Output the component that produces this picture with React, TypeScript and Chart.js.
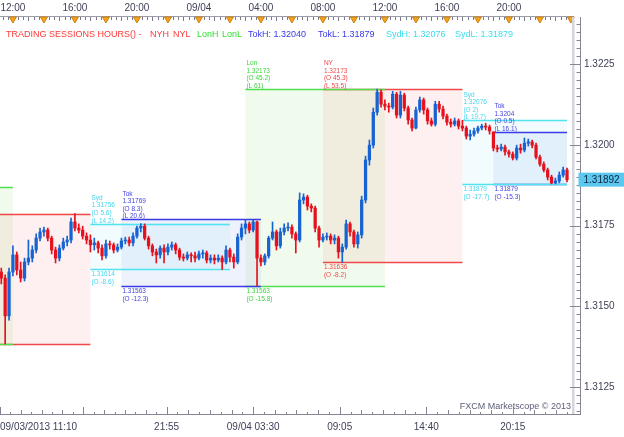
import React, { useEffect, useRef } from "react";
import { Chart, registerables } from "chart.js";

Chart.register(...registerables);

// ---------- data ----------
const FIRST_BAR_HOUR = 11.25; // 09/03 11:15 (hours since 09/03 00:00)
const BAR_HOURS = 0.25; // 15-minute bars
const X_MIN = 11 + 10 / 60; // 09/03 11:10
const X_MAX = 48.07;
const Y_MIN = 1.31166;
const Y_MAX = 1.32396;

const opens = [
  1.31606, 1.31587, 1.3147, 1.31606, 1.31659, 1.31612, 1.31587, 1.31637, 1.31649, 1.31674,
  1.31711, 1.3173, 1.31736, 1.31711, 1.31674, 1.31649, 1.3168, 1.31699, 1.31705, 1.31761,
  1.31742, 1.31736, 1.31717, 1.31705, 1.3169, 1.31696, 1.3168, 1.31656, 1.31693, 1.3169,
  1.31674, 1.31683, 1.31702, 1.31705, 1.31696, 1.31717, 1.31742, 1.31748, 1.31711, 1.31687,
  1.31668, 1.31659, 1.3168, 1.31668, 1.31683, 1.3169, 1.31674, 1.31652, 1.31649, 1.31659,
  1.31656, 1.31649, 1.31662, 1.31665, 1.31643, 1.31649, 1.31643, 1.31649, 1.31637, 1.31674,
  1.31652, 1.31637, 1.31714, 1.31742, 1.31755, 1.31736, 1.31761, 1.31649, 1.31637, 1.31656,
  1.31711, 1.3173, 1.31687, 1.3173, 1.31742, 1.31745, 1.31724, 1.31705, 1.31829, 1.31838,
  1.3181, 1.31804, 1.31742, 1.31705, 1.31714, 1.31717, 1.31705, 1.31711, 1.31668, 1.31683,
  1.31755, 1.3173, 1.31693, 1.31721, 1.31829, 1.31953, 1.31999, 1.32101, 1.32163, 1.32126,
  1.3212, 1.32117, 1.32157, 1.32092, 1.32154, 1.32114, 1.32077, 1.32052, 1.32108, 1.32139,
  1.32108, 1.32074, 1.32064, 1.32126, 1.32111, 1.32089, 1.3207, 1.32064, 1.32074, 1.32058,
  1.32052, 1.32027, 1.32033, 1.32043, 1.32052, 1.32058, 1.32055, 1.3204, 1.3199, 1.31987,
  1.31993, 1.31978, 1.31971, 1.31959, 1.3199, 1.31984, 1.32005, 1.32009, 1.31999, 1.31962,
  1.3194, 1.31922, 1.319, 1.31882, 1.31888, 1.31906, 1.31922,
];
const highs = [
  1.31618, 1.31597, 1.31618, 1.31687, 1.31668, 1.31637, 1.31649, 1.31705, 1.31687, 1.31724,
  1.31742, 1.31745, 1.31742, 1.31717, 1.31683, 1.3169, 1.31711, 1.31717, 1.31773, 1.31787,
  1.31755, 1.31748, 1.31727, 1.31721, 1.31711, 1.31702, 1.3169, 1.31705, 1.31702, 1.31696,
  1.31693, 1.31711, 1.31714, 1.31714, 1.31727, 1.31748, 1.31756, 1.31755, 1.31717, 1.31693,
  1.31677, 1.31687, 1.3169, 1.31693, 1.31699, 1.31696, 1.3168, 1.31662, 1.31668, 1.31665,
  1.31668, 1.31671, 1.31674, 1.31671, 1.31659, 1.31659, 1.31659, 1.31656, 1.31687, 1.3168,
  1.31662, 1.31724, 1.31755, 1.31769, 1.31761, 1.31767, 1.31764, 1.31659, 1.31662, 1.31717,
  1.31761, 1.31736, 1.31742, 1.31755, 1.31758, 1.31752, 1.3173, 1.31851, 1.31848, 1.31844,
  1.31817, 1.3181, 1.31748, 1.31724, 1.31727, 1.31724, 1.31721, 1.31717, 1.31693, 1.31767,
  1.31761, 1.31736, 1.3173, 1.31841, 1.31965, 1.32015, 1.32114, 1.32173, 1.3217, 1.32139,
  1.32129, 1.32166, 1.32163, 1.32166, 1.3216, 1.3212, 1.32083, 1.32117, 1.32148, 1.32145,
  1.32114, 1.32083, 1.32135, 1.32135, 1.3212, 1.32095, 1.3208, 1.32083, 1.3208, 1.32076,
  1.32058, 1.32046, 1.32052, 1.32058, 1.32064, 1.32067, 1.32061, 1.3204, 1.31999, 1.32002,
  1.31999, 1.31984, 1.31978, 1.31999, 1.32002, 1.32021, 1.32018, 1.32015, 1.32005, 1.31968,
  1.31947, 1.31928, 1.31906, 1.31897, 1.31916, 1.31931, 1.31928,
];
const lows = [
  1.31569, 1.31383, 1.31457, 1.31594, 1.31597, 1.31575, 1.31578, 1.31628, 1.31637, 1.31665,
  1.31702, 1.31717, 1.31702, 1.31662, 1.31634, 1.3164, 1.31674, 1.31687, 1.31696, 1.31733,
  1.31727, 1.31708, 1.31693, 1.31668, 1.31674, 1.31665, 1.31643, 1.31649, 1.31677, 1.31665,
  1.31668, 1.31677, 1.31693, 1.31687, 1.31687, 1.31711, 1.3173, 1.31705, 1.31677, 1.31656,
  1.31634, 1.31649, 1.31634, 1.31659, 1.31674, 1.31662, 1.31643, 1.3164, 1.31643, 1.31637,
  1.31637, 1.31643, 1.31649, 1.31634, 1.31634, 1.31631, 1.31637, 1.31614, 1.31631, 1.31637,
  1.31618, 1.31631, 1.31705, 1.31724, 1.31727, 1.3173, 1.31563, 1.31625, 1.31628, 1.31649,
  1.31705, 1.31674, 1.3168, 1.31721, 1.31733, 1.31711, 1.31665, 1.31699, 1.31817, 1.31798,
  1.31792, 1.3173, 1.31683, 1.31699, 1.31705, 1.31693, 1.31693, 1.31649, 1.31636, 1.31677,
  1.31717, 1.31683, 1.3168, 1.31711, 1.3182, 1.31937, 1.3199, 1.32092, 1.32117, 1.32108,
  1.32101, 1.32111, 1.32083, 1.32083, 1.32105, 1.32064, 1.32043, 1.32049, 1.32101, 1.32095,
  1.32064, 1.32058, 1.32058, 1.32101, 1.3208, 1.32061, 1.32055, 1.32058, 1.32049, 1.32043,
  1.32018, 1.32015, 1.32027, 1.32036, 1.32046, 1.32046, 1.32033, 1.31981, 1.31978, 1.31981,
  1.31968, 1.31962, 1.31953, 1.31953, 1.31974, 1.31978, 1.31996, 1.3199, 1.31956, 1.31934,
  1.31916, 1.31891, 1.31879, 1.31879, 1.31882, 1.319, 1.31885,
];
const closes = [
  1.31587, 1.3147, 1.31606, 1.31659, 1.31612, 1.31587, 1.31637, 1.31649, 1.31674, 1.31711,
  1.3173, 1.31736, 1.31711, 1.31674, 1.31649, 1.3168, 1.31699, 1.31705, 1.31761, 1.31742,
  1.31736, 1.31717, 1.31705, 1.3169, 1.31696, 1.3168, 1.31656, 1.31693, 1.3169, 1.31674,
  1.31683, 1.31702, 1.31705, 1.31696, 1.31717, 1.31742, 1.31748, 1.31711, 1.31687, 1.31668,
  1.31659, 1.3168, 1.31668, 1.31683, 1.3169, 1.31674, 1.31652, 1.31649, 1.31659, 1.31656,
  1.31649, 1.31662, 1.31665, 1.31643, 1.31649, 1.31643, 1.31649, 1.31637, 1.31674, 1.31652,
  1.31637, 1.31714, 1.31742, 1.31755, 1.31736, 1.31761, 1.31649, 1.31637, 1.31656, 1.31711,
  1.3173, 1.31687, 1.3173, 1.31742, 1.31745, 1.31724, 1.31705, 1.31829, 1.31838, 1.3181,
  1.31804, 1.31742, 1.31705, 1.31714, 1.31717, 1.31705, 1.31711, 1.31668, 1.31683, 1.31755,
  1.3173, 1.31693, 1.31721, 1.31829, 1.31953, 1.31999, 1.32101, 1.32163, 1.32126, 1.3212,
  1.32117, 1.32157, 1.32092, 1.32154, 1.32114, 1.32077, 1.32052, 1.32108, 1.32139, 1.32108,
  1.32074, 1.32064, 1.32126, 1.32111, 1.32089, 1.3207, 1.32064, 1.32074, 1.32058, 1.32052,
  1.32027, 1.32033, 1.32043, 1.32052, 1.32058, 1.32055, 1.32043, 1.3199, 1.31987, 1.31993,
  1.31978, 1.31971, 1.31959, 1.3199, 1.31984, 1.32005, 1.32009, 1.31999, 1.31962, 1.3194,
  1.31922, 1.319, 1.31882, 1.31888, 1.31906, 1.31922, 1.31892,
];

// trading sessions (hours since 09/03 00:00)
const sessionNames = ["NY", "Lon", "NY", "Lon", "Tok", "Syd", "Tok", "Syd"];
const sessionStarts = [8, 3, 32, 27, 19, 17, 43, 41];
const sessionEnds = [17, 12, 41, 36, 28, 26, 52, 50];
const sessionHighs = [1.31787, 1.3187, 1.32173, 1.32173, 1.31769, 1.31756, 1.3204, 1.32076];
const sessionLows = [1.31383, 1.31383, 1.31636, 1.31563, 1.31563, 1.31614, 1.31879, 1.31879];
const sessionHighText = ["", "", "1.32173", "1.32173", "1.31769", "1.31756", "1.3204", "1.32076"];
const sessionOpenHighText = ["", "", "(O 45.3)", "(O 45.2)", "(O 8.3)", "(O 5.6)", "(O 0.5)", "(O 2)"];
const sessionRangeText = ["", "", "(L 53.5)", "(L 61)", "(L 20.6)", "(L 14.2)", "(L 16.1)", "(L 19.7)"];
const sessionLowText = ["", "", "1.31636", "1.31563", "1.31563", "1.31614", "1.31879", "1.31879"];
const sessionOpenLowText = ["", "", "(O -8.2)", "(O -15.8)", "(O -12.3)", "(O -8.6)", "(O -15.3)", "(O -17.7)"];

const headerTexts = [
  "TRADING SESSIONS HOURS() -", "NYH", "NYL", "LonH", "LonL",
  "TokH: 1.32040", "TokL: 1.31879", "SydH: 1.32076", "SydL: 1.31879",
];
const headerKinds = ["NY", "NY", "NY", "Lon", "Lon", "Tok", "Tok", "Syd", "Syd"];

const topTickHours = [12, 16, 20, 24, 28, 32, 36, 40, 44];
const topTickLabels = ["12:00", "16:00", "20:00", "09/04", "04:00", "08:00", "12:00", "16:00", "20:00"];
const bottomTickHours = [11 + 10 / 60, 16.54, 21 + 55 / 60, 27.5, 33 + 5 / 60, 38 + 40 / 60, 44.25];
const bottomTickLabels = ["09/03/2013 11:10", "", "21:55", "09/04 03:30", "09:05", "14:40", "20:15"];
const priceTicks = [1.3125, 1.315, 1.3175, 1.32, 1.3225];
const lastPriceLabel = "1.31892";

// ---------- styles ----------
const UP = "#1763d2";
const DOWN = "#e5121d";
const STYLE: Record<string, { line: string; fill: string; text: string; head: string }> = {
  NY: { line: "#f04848", fill: "rgba(240,60,60,0.075)", text: "#f04848", head: "#ff3838" },
  Lon: { line: "#4fe04f", fill: "rgba(90,210,50,0.085)", text: "#3cd43c", head: "#30e030" },
  Tok: { line: "#3a3ae6", fill: "rgba(60,100,230,0.085)", text: "#4444e0", head: "#3838ec" },
  Syd: { line: "#4ee4f2", fill: "rgba(70,210,240,0.07)", text: "#44d6ee", head: "#38ddf0" },
};
const FONT = '"Liberation Sans", Arial, sans-serif';
const AXIS_TEXT = "#3f4258";

const times = closes.map((_, i) => FIRST_BAR_HOUR + i * BAR_HOURS);
const LAST_TIME = times[times.length - 1];
const colorFor = (i: number) => (closes[i] >= opens[i] ? UP : DOWN);

const sessionsPlugin = {
  id: "sessions",
  beforeDatasetsDraw(chart: any) {
    const { ctx, chartArea: a, scales } = chart;
    const x = scales.x;
    const y = scales.y;
    ctx.save();
    ctx.beginPath();
    ctx.rect(a.left, a.top, a.right - a.left, a.bottom - a.top);
    ctx.clip();
    const boxes = sessionNames.map((n, i) => {
      const x0 = x.getPixelForValue(Math.max(sessionStarts[i], X_MIN));
      const x1 = x.getPixelForValue(Math.min(sessionEnds[i], LAST_TIME));
      const yt = y.getPixelForValue(sessionHighs[i]);
      const yb = y.getPixelForValue(sessionLows[i]);
      return { n, i, x0, x1, yt, yb };
    });
    boxes.forEach((b) => {
      ctx.fillStyle = STYLE[b.n].fill;
      ctx.fillRect(b.x0, b.yt, b.x1 - b.x0, b.yb - b.yt);
    });
    ctx.lineWidth = 1.4;
    boxes.forEach((b) => {
      ctx.strokeStyle = STYLE[b.n].line;
      ctx.beginPath();
      ctx.moveTo(b.x0, Math.round(b.yt) + 0.5);
      ctx.lineTo(b.x1, Math.round(b.yt) + 0.5);
      ctx.moveTo(b.x0, Math.round(b.yb) + 0.5);
      ctx.lineTo(b.x1, Math.round(b.yb) + 0.5);
      ctx.stroke();
    });
    ctx.font = `6.5px ${FONT}`;
    ctx.textAlign = "left";
    boxes.forEach((b) => {
      if (sessionStarts[b.i] < X_MIN) return;
      ctx.fillStyle = STYLE[b.n].text;
      const top = [b.n, sessionHighText[b.i], sessionOpenHighText[b.i], sessionRangeText[b.i]];
      ctx.textBaseline = "bottom";
      top.forEach((t, j) => {
        ctx.fillText(t, b.x0 + 1, b.yt - (top.length - 1 - j) * 7.6 + 0.5);
      });
      const bot = [sessionLowText[b.i], sessionOpenLowText[b.i]];
      ctx.textBaseline = "top";
      bot.forEach((t, j) => {
        ctx.fillText(t, b.x0 + 1, b.yb + 2 + j * 7.6);
      });
    });
    ctx.restore();
  },
};

const decorPlugin = {
  id: "decor",
  afterDraw(chart: any) {
    const { ctx, chartArea: a, scales } = chart;
    const x = scales.x;
    const y = scales.y;
    const axisX = a.right + 8.5;
    ctx.save();

    // header legend
    const headerX = [6, 150, 173, 197, 222, 248, 318, 386, 455];
    ctx.font = `9px ${FONT}`;
    ctx.textBaseline = "middle";
    ctx.textAlign = "left";
    headerTexts.forEach((t, i) => {
      ctx.fillStyle = STYLE[headerKinds[i]].head;
      ctx.fillText(t, headerX[i], 35);
    });

    // top time axis
    ctx.strokeStyle = "#9c9cab";
    ctx.lineWidth = 1;
    ctx.beginPath();
    ctx.moveTo(a.left, a.top - 0.5);
    ctx.lineTo(a.right + 2, a.top - 0.5);
    ctx.stroke();
    ctx.strokeStyle = "#7a7a8a";
    ctx.beginPath();
    for (let m = 680; m <= 48 * 60; m += 20) {
      const px = Math.round(x.getPixelForValue(m / 60)) + 0.5;
      if (px < a.left || px > a.right) continue;
      ctx.moveTo(px, a.top);
      ctx.lineTo(px, a.top + (m % 60 === 0 ? 4 : 3));
    }
    ctx.stroke();
    for (let h = 12; h <= 48; h += 2) {
      const px = x.getPixelForValue(h);
      if (px < a.left || px > a.right + 1) continue;
      ctx.fillStyle = "#f7a21c";
      ctx.strokeStyle = "#c98212";
      ctx.beginPath();
      ctx.moveTo(px - 3.5, a.top);
      ctx.lineTo(px + 3.5, a.top);
      ctx.lineTo(px, a.top + 6);
      ctx.closePath();
      ctx.fill();
      ctx.stroke();
    }
    ctx.font = `10px ${FONT}`;
    ctx.fillStyle = AXIS_TEXT;
    ctx.textAlign = "center";
    ctx.textBaseline = "middle";
    topTickHours.forEach((h, i) => {
      ctx.fillText(topTickLabels[i], x.getPixelForValue(h), 8);
    });

    // right border band and price axis
    ctx.fillStyle = "#d6d6de";
    ctx.fillRect(a.right, a.top, 2.5, a.bottom - a.top);
    ctx.strokeStyle = "#858596";
    ctx.beginPath();
    ctx.moveTo(axisX, a.top);
    ctx.lineTo(axisX, a.bottom + 1);
    const step = 0.00025;
    for (let k = Math.ceil(Y_MIN / step); k <= Math.floor(Y_MAX / step); k++) {
      const v = k * step;
      const py = Math.round(y.getPixelForValue(v)) + 0.5;
      const major = k % 10 === 0;
      ctx.moveTo(major ? a.right - 2 : axisX - 4, py);
      ctx.lineTo(axisX, py);
    }
    ctx.stroke();

    // bottom axis
    ctx.strokeStyle = "#858596";
    ctx.beginPath();
    ctx.moveTo(a.left, a.bottom + 0.5);
    ctx.lineTo(axisX, a.bottom + 0.5);
    for (let j = 0; j < bottomTickHours.length; j++) {
      const h0 = bottomTickHours[j];
      const next = j + 1 < bottomTickHours.length ? bottomTickHours[j + 1] : h0 + (h0 - bottomTickHours[j - 1]);
      const sub = (next - h0) / 8;
      for (let s = 0; s < 8; s++) {
        const px = Math.round(x.getPixelForValue(h0 + s * sub)) + 0.5;
        if (px > a.right) break;
        ctx.moveTo(px, a.bottom);
        ctx.lineTo(px, a.bottom - (s === 0 ? 7 : s % 2 === 0 ? 4 : 2));
      }
    }
    ctx.stroke();
    ctx.font = `10px ${FONT}`;
    ctx.fillStyle = AXIS_TEXT;
    ctx.textBaseline = "middle";
    bottomTickHours.forEach((h, i) => {
      if (!bottomTickLabels[i]) return;
      const px = x.getPixelForValue(h);
      ctx.textAlign = i === 0 ? "left" : "center";
      ctx.fillText(bottomTickLabels[i], i === 0 ? px : px, 427);
    });

    // watermark
    ctx.font = `9px ${FONT}`;
    ctx.fillStyle = "#5c5e78";
    ctx.textAlign = "right";
    ctx.fillText("FXCM Marketscope \u00a9 2013", a.right - 1, a.bottom - 7);

    // last price tag
    const py = y.getPixelForValue(closes[closes.length - 1]);
    ctx.fillStyle = "#5cc8ef";
    ctx.fillRect(axisX - 2, py - 7, chart.width - axisX + 2, 14);
    ctx.fillStyle = "#0d2340";
    ctx.font = `10px ${FONT}`;
    ctx.textAlign = "left";
    ctx.fillText(lastPriceLabel, axisX + 3, py + 0.5);

    ctx.restore();
  },
};

export default function App() {
  const ref = useRef<HTMLCanvasElement>(null);
  useEffect(() => {
    const canvas = ref.current;
    if (!canvas) return;
    const chart = new Chart(canvas, {
      type: "bar",
      data: {
        datasets: [
          {
            label: "wick",
            data: times.map((t, i) => ({ x: t, y: [lows[i], highs[i]] })) as any,
            backgroundColor: (c: any) => colorFor(c.dataIndex),
            barThickness: 1,
            grouped: false,
            order: 2,
          },
          {
            label: "body",
            data: times.map((t, i) => ({ x: t, y: [opens[i], closes[i]] })) as any,
            backgroundColor: (c: any) => colorFor(c.dataIndex),
            barThickness: 2.6,
            minBarLength: 1,
            grouped: false,
            order: 1,
          },
        ],
      },
      options: {
        animation: false,
        responsive: false,
        events: [],
        layout: { padding: { top: 17, bottom: 23, left: 0, right: 0 } },
        plugins: { legend: { display: false }, tooltip: { enabled: false } },
        scales: {
          x: { type: "linear", display: false, min: X_MIN, max: X_MAX, offset: false },
          y: {
            type: "linear",
            position: "right",
            min: Y_MIN,
            max: Y_MAX,
            afterBuildTicks: (s: any) => {
              s.ticks = priceTicks.map((v) => ({ value: v }));
            },
            afterFit: (s: any) => {
              s.width = 52;
              s.paddingTop = 0;
              s.paddingBottom = 0;
            },
            ticks: {
              callback: (v: any) => Number(v).toFixed(4),
              font: { family: FONT, size: 10 },
              color: AXIS_TEXT,
              padding: 12,
            },
            grid: { display: false, drawTicks: false },
            border: { display: false },
          },
        },
      } as any,
      plugins: [sessionsPlugin, decorPlugin],
    });
    return () => chart.destroy();
  }, []);
  return (
    <div style={{ position: "absolute", left: 0, top: 0, width: 624, height: 437, background: "#ffffff" }}>
      <canvas ref={ref} width={624} height={437} style={{ display: "block", width: 624, height: 437 }} />
    </div>
  );
}
